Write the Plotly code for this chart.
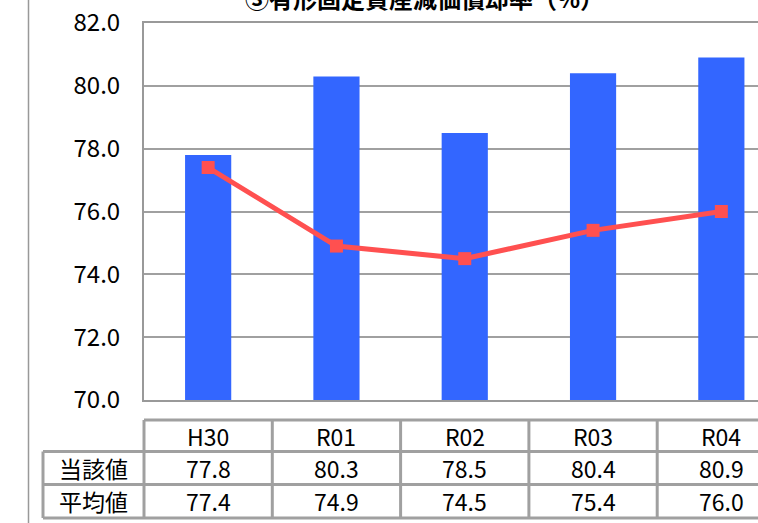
import plotly.graph_objects as go

# ---- data ----
categories = ["H30", "R01", "R02", "R03", "R04"]
toogai_values = [77.8, 80.3, 78.5, 80.4, 80.9]   # 当該値
heikin_values = [77.4, 74.9, 74.5, 75.4, 76.0]   # 平均値
row_labels = ["当該値", "平均値"]
title_text = "③有形固定資産減価償却率（%）"
y_ticks = [70, 72, 74, 76, 78, 80, 82]

W, H = 758, 523
FONT = "Noto Sans CJK JP"

# plot area in pixels
PL, PT, PB = 144, 23, 400
CAT_W = 128.3
x_lo = -0.5
x_hi = x_lo + (W - PL) / CAT_W


def px(x):
    return x / W


def py(y):
    return 1 - y / H


def cat_px(i):
    return PL + (i - x_lo) * CAT_W


fig = go.Figure()
fig.add_trace(go.Bar(
    x=list(range(len(categories))), y=toogai_values, name=row_labels[0],
    marker=dict(color="#3366FF", line=dict(width=0)), width=0.36,
))
fig.add_trace(go.Scatter(
    x=list(range(len(categories))), y=heikin_values, name=row_labels[1],
    mode="lines+markers",
    line=dict(color="#FF5050", width=5),
    marker=dict(symbol="square", size=13, color="#FF5050"),
))

shapes = []
GRAY = "#A0A0A0"
# left panel border line
shapes.append(dict(type="line", xref="paper", yref="paper", x0=px(28.5), x1=px(28.5),
                   y0=0, y1=1, line=dict(color="#999999", width=1.5)))

# table geometry
T_TOP, R1, R2, T_BOT = 420, 451.5, 484.5, 518
LAB_L = 43
lw = 3
# horizontal lines
shapes.append(dict(type="line", xref="paper", yref="paper", x0=px(PL), x1=1.05,
                   y0=py(T_TOP), y1=py(T_TOP), line=dict(color=GRAY, width=lw)))
for yy in [R1, R2, T_BOT]:
    shapes.append(dict(type="line", xref="paper", yref="paper", x0=px(LAB_L), x1=1.05,
                       y0=py(yy), y1=py(yy), line=dict(color=GRAY, width=lw)))
# vertical lines
shapes.append(dict(type="line", xref="paper", yref="paper", x0=px(LAB_L), x1=px(LAB_L),
                   y0=py(R1), y1=py(T_BOT), line=dict(color=GRAY, width=lw)))
for i in range(len(categories) + 1):
    xx = cat_px(i - 0.5)
    if xx > W:
        continue
    shapes.append(dict(type="line", xref="paper", yref="paper", x0=px(xx), x1=px(xx),
                       y0=py(T_TOP), y1=py(T_BOT), line=dict(color=GRAY, width=lw)))

annotations = []
tfont = dict(family=FONT, size=23, color="black")
for i, c in enumerate(categories):
    annotations.append(dict(x=i, xref="x", y=py((T_TOP + R1) / 2), yref="paper", text=c,
                            showarrow=False, font=tfont, xanchor="center", yanchor="middle"))
    annotations.append(dict(x=i, xref="x", y=py((R1 + R2) / 2), yref="paper",
                            text=f"{toogai_values[i]:.1f}", showarrow=False, font=tfont,
                            xanchor="center", yanchor="middle"))
    annotations.append(dict(x=i, xref="x", y=py((R2 + T_BOT) / 2), yref="paper",
                            text=f"{heikin_values[i]:.1f}", showarrow=False, font=tfont,
                            xanchor="center", yanchor="middle"))
for k, lab in enumerate(row_labels):
    yc = (R1 + R2) / 2 if k == 0 else (R2 + T_BOT) / 2
    annotations.append(dict(x=px((LAB_L + PL) / 2), xref="paper", y=py(yc), yref="paper",
                            text=lab, showarrow=False, font=tfont,
                            xanchor="center", yanchor="middle"))
# title (mostly cut off at top, as in the reference)
annotations.append(dict(x=px(424), xref="paper", y=py(-3), yref="paper",
                        text=f"<b>{title_text}</b>", showarrow=False,
                        font=dict(family=FONT, size=24, color="black"),
                        xanchor="center", yanchor="middle"))

fig.update_layout(
    width=W, height=H,
    margin=dict(l=0, r=0, t=0, b=0),
    paper_bgcolor="white", plot_bgcolor="white",
    showlegend=False,
    xaxis=dict(domain=[px(PL), 1], range=[x_lo, x_hi], showticklabels=False,
               showgrid=False, zeroline=False, showline=True, linecolor="#999999",
               linewidth=2, mirror=True, ticks="", fixedrange=True),
    yaxis=dict(domain=[py(PB), py(PT)], range=[70, 82], tickvals=y_ticks,
               ticktext=[f"{v:.1f}" for v in y_ticks], showgrid=True,
               gridcolor="#A0A0A0", gridwidth=2, zeroline=False, showline=True,
               linecolor="#999999", linewidth=2, ticks="", automargin=False,
               ticklabelstandoff=17,
               tickfont=dict(family=FONT, size=24, color="black")),
    shapes=shapes, annotations=annotations,
)

fig.write_html("out.html",
               config={"displayModeBar": False},
               post_script="document.body.style.margin='0px';document.body.style.overflow='hidden';")
